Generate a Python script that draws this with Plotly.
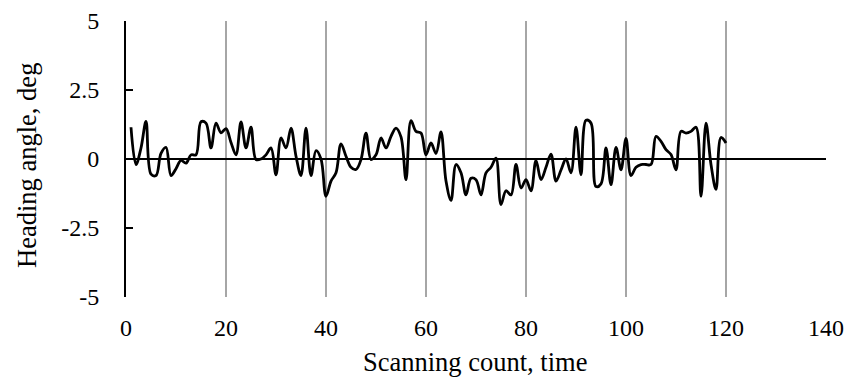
import plotly.graph_objects as go

scan_count = list(range(1, 121))
heading_deg = [
    1.15, -0.2, 0.4, 1.36, -0.55, -0.6, 0.2, 0.42, -0.6, -0.35,
    -0.05, -0.15, 0.15, 0.15, 1.35, 1.3, 0.4, 1.3, 0.95, 1.1,
    0.6, 0.15, 1.34, 0.4, 1.15, -0.02, 0.0, 0.15, 0.4, -0.57,
    0.76, 0.4, 1.12, 0.1, -0.6, 1.12, -0.6, 0.3, 0.0, -1.35,
    -0.8, -0.5, 0.55, 0.1, -0.3, -0.38, -0.02, 0.94, -0.02, 0.15,
    0.76, 0.4, 0.82, 1.12, 0.8, -0.75, 1.39, 1.0, 0.94, 0.15,
    0.58, 0.2, 0.98, -0.8, -1.5, -0.2, -0.5, -1.3, -0.7, -0.75,
    -1.3, -0.5, -0.3, 0.03, -1.65, -1.15, -1.3, -0.2, -1.05, -0.75,
    -1.15, -0.05, -0.75, -0.3, 0.18, -0.8, -0.4, 0.0, -0.5, 1.15,
    -0.57, 1.4, 1.3, -1.0, -0.9, 0.4, -0.93, 0.42, -0.39, 0.75,
    -0.6, -0.3, -0.2, -0.2, -0.2, 0.82, 0.64, 0.34, 0.16, -0.39,
    1.0, 0.94, 1.0, 1.15, -1.35, 1.3, -0.2, -1.1, 0.78, 0.58,
]

x_ticks = [0, 20, 40, 60, 80, 100, 120, 140]
y_ticks = [-5, -2.5, 0, 2.5, 5]
y_tick_text = ["-5", "-2.5", "0", "2.5", "5"]

font_family = "Liberation Serif"
tick_font = dict(family=font_family, size=24, color="black")

fig = go.Figure()
fig.add_trace(go.Scatter(
    x=scan_count, y=heading_deg, mode="lines",
    line=dict(color="black", width=2.8, shape="spline", smoothing=1.0),
    showlegend=False,
))

fig.update_layout(
    width=846, height=382,
    margin=dict(l=126, r=20, t=21, b=85),
    paper_bgcolor="white", plot_bgcolor="white",
    font=dict(family=font_family, size=24, color="black"),
)
fig.update_xaxes(
    range=[0, 140], tickvals=x_ticks, showgrid=True,
    gridcolor="#a6a6a6", gridwidth=1.5, showline=False,
    zeroline=False, ticks="", ticklabelstandoff=14,
    tickfont=tick_font, automargin=False, ticklabeloverflow="allow",
)
fig.update_yaxes(
    range=[-5, 5], tickvals=y_ticks, ticktext=y_tick_text,
    showgrid=False, showline=True, linecolor="black", linewidth=2,
    ticks="inside", ticklen=7, tickwidth=2, tickcolor="black",
    zeroline=True, zerolinecolor="black", zerolinewidth=2,
    ticklabelstandoff=20, tickfont=tick_font, automargin=False,
)

title_font = dict(family=font_family, size=26.5, color="black")
fig.add_annotation(
    text="Scanning count, time", xref="paper", yref="paper",
    x=0.4986, y=-0.2355, xanchor="center", yanchor="middle",
    showarrow=False, font=title_font,
)
fig.add_annotation(
    text="Heading angle, deg", xref="paper", yref="paper",
    x=-0.1414, y=0.475, xanchor="center", yanchor="middle",
    textangle=-90, showarrow=False, font=title_font,
)

# remove the default page margin so the 846x382 figure fills the window
fig.write_html(
    "out.html",
    config={"displayModeBar": False},
    post_script="document.body.style.margin='0';document.body.style.overflow='hidden';",
)
